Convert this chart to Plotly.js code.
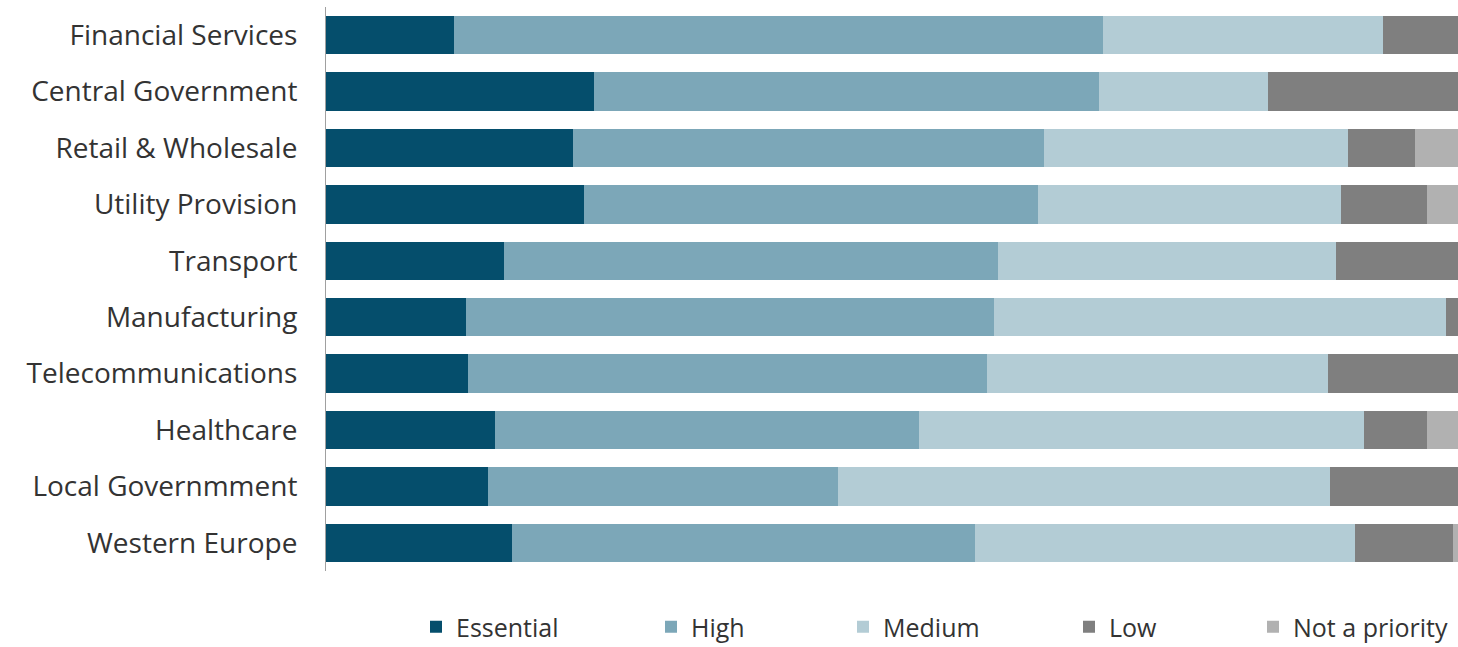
<!DOCTYPE html>
<html>
<head>
<meta charset="utf-8">
<script src="https://cdn.plot.ly/plotly-3.0.1.min.js"></script>
<style>html,body{margin:0;padding:0;background:#fff;}#chart{width:1458px;height:647px;}</style>
</head>
<body>
<div id="chart"></div>
<script>
const categories = ["Financial Services","Central Government","Retail & Wholesale","Utility Provision","Transport","Manufacturing","Telecommunications","Healthcare","Local Governmment","Western Europe"];
const essential   = [11.3, 23.7, 21.8, 22.8, 15.7, 12.4, 12.5, 14.9, 14.3, 16.4];
const high        = [57.3, 44.6, 41.6, 40.1, 43.7, 46.6, 45.9, 37.5, 30.9, 40.9];
const medium      = [24.8, 14.9, 26.9, 26.8, 29.8, 39.9, 30.1, 39.3, 43.5, 33.6];
const low         = [6.6, 16.8, 5.9, 7.6, 10.8, 1.1, 11.5, 5.6, 11.3, 8.7];
const notPriority = [0, 0, 3.8, 2.7, 0, 0, 0, 2.7, 0, 0.4];
const seriesNames = ["Essential","High","Medium","Low","Not a priority"];

const colors = ["#054e6c","#7ca7b8","#b3ccd5","#7f7f7f","#b1b1b1"];
const values = [essential, high, medium, low, notPriority];
const legendIds = ["legend","legend2","legend3","legend4","legend5"];

const traces = values.map((v, i) => ({
  type: "bar",
  orientation: "h",
  name: seriesNames[i],
  x: v,
  y: categories,
  marker: {color: colors[i], line: {width: 0}},
  legend: legendIds[i],
  hoverinfo: "name+x"
}));

// layout helpers (pixel -> paper)
const mL = 326, mR = 0, mT = 7, mB = 76, W = 1458, H = 647;
const pw = W - mL - mR, ph = H - mT - mB;
const px = p => (p - mL) / pw;
const py = p => (H - mB - p) / ph;
const legendStarts = [416, 651, 843, 1069, 1253];
const legendFont = {family: "'Open Sans', sans-serif", size: 25, color: "#333333"};

const layout = {
  width: W, height: H,
  margin: {l: mL, r: mR, t: mT, b: mB, pad: 0, autoexpand: false},
  barmode: "stack",
  bargap: 0.32,
  paper_bgcolor: "#ffffff",
  plot_bgcolor: "#ffffff",
  font: {family: "'Open Sans', sans-serif", color: "#333333"},
  xaxis: {range: [0, 100], showticklabels: false, showgrid: false, zeroline: false, ticks: "", fixedrange: true},
  yaxis: {autorange: "reversed", showline: true, linecolor: "#a0a0a0", linewidth: 1, ticks: "", ticklen: 0,
          tickfont: {family: "'Open Sans', sans-serif", size: 28, color: "#333333"}, showgrid: false, automargin: false, ticklabelstandoff: 22},
  showlegend: true
};
legendIds.forEach((id, i) => {
  layout[id] = {orientation: "h", x: px(legendStarts[i]), xanchor: "left", y: py(627), yanchor: "middle",
                font: legendFont, bgcolor: "rgba(0,0,0,0)", borderwidth: 0, itemwidth: 30, traceorder: "normal"};
});

Plotly.newPlot("chart", traces, layout, {displayModeBar: false, staticPlot: true});
</script>
</body>
</html>
